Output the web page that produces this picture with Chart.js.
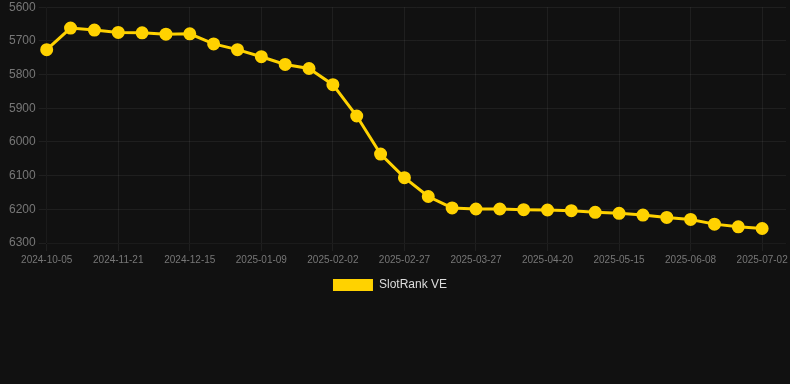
<!DOCTYPE html>
<html>
<head>
<meta charset="utf-8">
<script src="https://cdn.jsdelivr.net/npm/chart.js@4"></script>
<style>
  html, body { margin: 0; padding: 0; background: #111111; width: 790px; height: 384px; overflow: hidden; }
  #wrap { position: relative; width: 794px; height: 304px; margin-top: -3px; }
</style>
</head>
<body>
<div id="wrap"><canvas id="c"></canvas></div>
<script>
const categories = [
  "2024-10-05","2024-10-21","2024-11-05","2024-11-21","2024-11-29","2024-12-07",
  "2024-12-15","2024-12-23","2025-01-01","2025-01-09","2025-01-17","2025-01-25",
  "2025-02-02","2025-02-10","2025-02-18","2025-02-27","2025-03-08","2025-03-18",
  "2025-03-27","2025-04-04","2025-04-12","2025-04-20","2025-04-28","2025-05-07",
  "2025-05-15","2025-05-23","2025-05-31","2025-06-08","2025-06-16","2025-06-24",
  "2025-07-02","2025-07-10"
];
const seriesName = "SlotRank VE";
const rankValues = [
  5726, 5662, 5668, 5675, 5676, 5680,
  5679, 5709, 5726, 5747, 5770, 5782,
  5830, 5923, 6036, 6106, 6162, 6196,
  6199, 6199, 6201, 6202, 6204, 6209,
  6212, 6217, 6224, 6230, 6244, 6252,
  6257
];
const yTicks = [5600, 5700, 5800, 5900, 6000, 6100, 6200, 6300];
const xTickEvery = 3;

const gold = '#FFD200';
const legendNudge = {
  id: 'legendNudge',
  afterLayout(chart) {
    if (chart.legend) { chart.legend.right -= 18; chart.legend.left -= 2; }
  }
};
new Chart(document.getElementById('c'), {
  type: 'line',
  data: {
    labels: categories,
    datasets: [{
      label: seriesName,
      data: rankValues,
      borderColor: gold,
      backgroundColor: gold,
      pointBackgroundColor: gold,
      pointBorderColor: gold,
      borderWidth: 3,
      pointRadius: 5,
      tension: 0
    }]
  },
  plugins: [legendNudge],
  options: {
    responsive: true,
    maintainAspectRatio: false,
    animation: false,
    layout: { padding: { left: 6, right: 0 } },
    plugins: {
      legend: {
        position: 'bottom',
        labels: {
          color: '#dddddd', boxWidth: 40, boxHeight: 12, font: { size: 12 },
          generateLabels: function(chart) {
            return chart.data.datasets.map((ds, i) => ({
              text: ds.label, fillStyle: ds.backgroundColor, strokeStyle: ds.backgroundColor,
              lineWidth: 0, hidden: false, datasetIndex: i, fontColor: '#dddddd'
            }));
          }
        }
      },
      tooltip: { enabled: false }
    },
    scales: {
      x: {
        grid: { color: 'rgba(255,255,255,0.06)' },
        afterBuildTicks: function(axis) {
          axis.ticks = axis.ticks.filter(t => t.value % xTickEvery === 0 && t.value < rankValues.length);
        },
        ticks: {
          color: '#777777',
          font: { size: 10 },
          maxRotation: 0,
          autoSkip: false,
          callback: function(v) { return categories[v]; }
        }
      },
      y: {
        reverse: true,
        min: yTicks[0],
        max: yTicks[yTicks.length - 1],
        grid: { color: 'rgba(255,255,255,0.06)' },
        afterBuildTicks: function(axis) { axis.ticks = yTicks.map(v => ({ value: v })); },
        ticks: { color: '#777777', font: { size: 12 }, callback: v => String(v) }
      }
    }
  }
});
</script>
</body>
</html>
